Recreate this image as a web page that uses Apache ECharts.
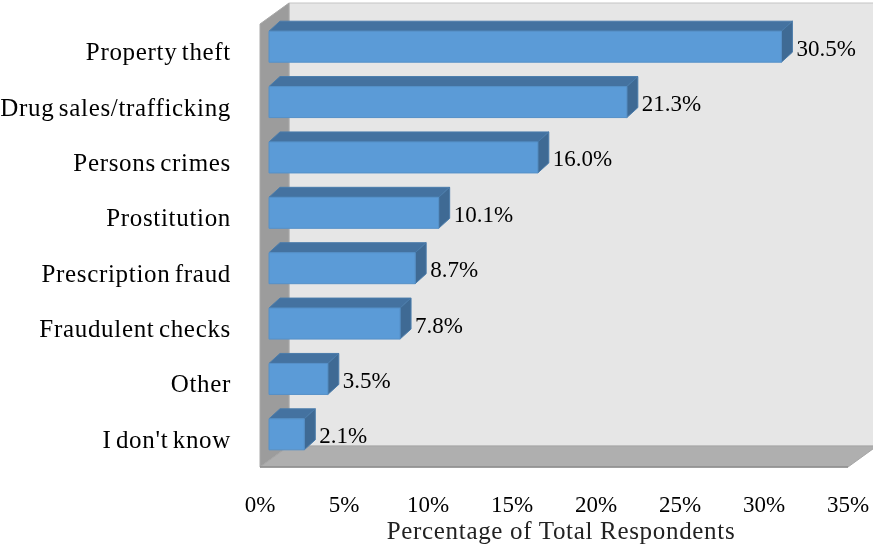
<!DOCTYPE html>
<html>
<head>
<meta charset="utf-8">
<style>
  html, body { margin: 0; padding: 0; background: #fff; }
  #chart { width: 873px; height: 545px; filter: blur(0.4px); }
  /* the reference face runs wider than Liberation Serif */
  #chart text[style*="25px"] { letter-spacing: 0.68px; }
  #chart text[style*="25px"][fill="#000"] { word-spacing: -2.5px; }
</style>
<script src="https://cdn.jsdelivr.net/npm/echarts@6/dist/echarts.min.js"></script>
</head>
<body>
<div id="chart"></div>
<script>
const categories = ['Property theft', 'Drug sales/trafficking', 'Persons crimes', 'Prostitution', 'Prescription fraud', 'Fraudulent checks', 'Other', "I don't know"]
const values = [30.5, 21.3, 16.0, 10.1, 8.7, 7.8, 3.5, 2.1]
const xTicks = { min: 0, max: 35, interval: 5 }

const FONT = '"Liberation Serif", serif'

// Depth of the fake 3D box and of each bar, in px
const WALL_DX = 29, WALL_DY = 21
const BAR_DX = 11, BAR_DY = 10
const BAR_SHIFT_X = 9, BAR_SHIFT_Y = -5
const BAR_H = 31

function poly(points, fill, stroke) {
  return { type: 'polygon', shape: { points }, style: { fill, stroke: stroke || fill, lineWidth: 1 } }
}

function renderWalls(params) {
  const c = params.coordSys
  const l = c.x, r = c.x + c.width, t = c.y, b = c.y + c.height
  return {
    type: 'group',
    children: [
      poly([[l + WALL_DX, t - WALL_DY], [r + WALL_DX, t - WALL_DY], [r + WALL_DX, b - WALL_DY], [l + WALL_DX, b - WALL_DY]], '#e6e6e6', '#c4c4c4'),
      poly([[l, t], [l + WALL_DX, t - WALL_DY], [l + WALL_DX, b - WALL_DY], [l, b]], '#9c9c9c', '#a8a8a8'),
      poly([[l, b], [l + WALL_DX, b - WALL_DY], [r + WALL_DX, b - WALL_DY], [r, b]], '#afafaf', '#a6a6a6'),
      { type: 'line', shape: { x1: l, y1: b, x2: r, y2: b }, style: { stroke: '#8c8c8c', lineWidth: 1.5 } }
    ]
  }
}

function renderBar(params, api) {
  const v = api.value(0)
  const end = api.coord([v, api.value(1)])
  const start = api.coord([0, api.value(1)])
  const x0 = start[0] + BAR_SHIFT_X, x1 = end[0] + BAR_SHIFT_X
  const y0 = end[1] + BAR_SHIFT_Y - BAR_H / 2, y1 = y0 + BAR_H
  return {
    type: 'group',
    children: [
      poly([[x0, y0], [x0 + BAR_DX, y0 - BAR_DY], [x1 + BAR_DX, y0 - BAR_DY], [x1, y0]], '#4472a0', '#4a7cab'),
      poly([[x1, y0], [x1 + BAR_DX, y0 - BAR_DY], [x1 + BAR_DX, y1 - BAR_DY], [x1, y1]], '#3f6a94', '#4a7cab'),
      poly([[x0, y0], [x1, y0], [x1, y1], [x0, y1]], '#5b9bd7', '#5590c8'),
      {
        type: 'text',
        style: {
          text: v.toFixed(1) + '%',
          x: x1 + BAR_DX + 4,
          y: y0 + 17,
          fill: '#000',
          font: '23px ' + FONT,
          verticalAlign: 'middle'
        }
      }
    ]
  }
}

const chart = echarts.init(document.getElementById('chart'), null, { renderer: 'svg' })
chart.setOption({
  animation: false,
  backgroundColor: '#fff',
  grid: { left: 260, right: 25, top: 24, bottom: 78, outerBoundsMode: 'none' },
  xAxis: {
    type: 'value',
    min: xTicks.min,
    max: xTicks.max,
    interval: xTicks.interval,
    axisLine: { show: false },
    axisTick: { show: false },
    splitLine: { show: false },
    axisLabel: {
      formatter: '{value}%',
      color: '#000',
      fontFamily: FONT,
      fontSize: 23,
      margin: 26
    },
    name: 'Percentage of Total Respondents',
    nameLocation: 'middle',
    nameGap: 51,
    nameMoveOverlap: false,
    nameTextStyle: { color: '#222', fontFamily: FONT, fontSize: 25, padding: [0, 0, 0, 14] }
  },
  yAxis: {
    type: 'category',
    inverse: true,
    data: categories,
    axisLine: { show: false },
    axisTick: { show: false },
    axisLabel: {
      color: '#000',
      fontFamily: FONT,
      fontSize: 25,
      margin: 29,
      padding: [8, 0, 0, 0]
    }
  },
  series: [
    {
      type: 'custom',
      renderItem: renderWalls,
      data: [[0, 0]],
      clip: false,
      silent: true,
      z: 1
    },
    {
      type: 'custom',
      renderItem: renderBar,
      data: values.map((v, i) => [v, i]),
      encode: { x: 0, y: 1 },
      clip: false,
      z: 2
    }
  ]
})
</script>
</body>
</html>
